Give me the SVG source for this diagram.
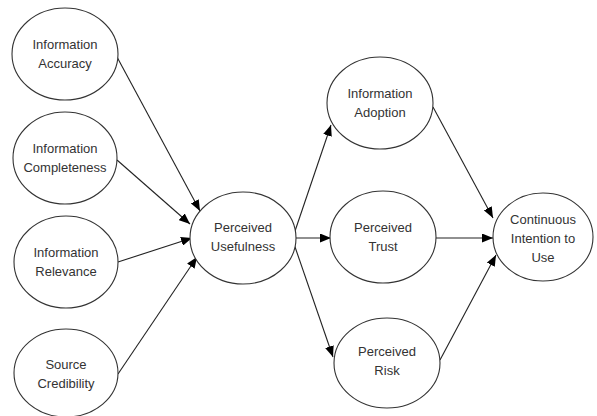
<svg xmlns="http://www.w3.org/2000/svg" width="597" height="416" viewBox="0 0 597 416">
<style>
.n ellipse{fill:#fff;stroke:#333;stroke-width:1.1}
.n text{font-family:"Liberation Sans",Arial,sans-serif;font-size:13px;fill:#333;text-anchor:middle}
#edges line{stroke:#222;stroke-width:1.1;marker-end:url(#ah)}
</style>
<defs>
<marker id="ah" markerWidth="11" markerHeight="9" refX="11" refY="4.5" orient="auto" markerUnits="userSpaceOnUse">
<path d="M0,0 L11,4.5 L0,9 Z" fill="#000"/>
</marker>
</defs>
<rect width="597" height="416" fill="#fff"/>
<g id="edges">
<line x1="117" y1="57" x2="200" y2="211"/>
<line x1="117" y1="160" x2="190" y2="224"/>
<line x1="118" y1="262" x2="192" y2="238"/>
<line x1="118" y1="374" x2="197" y2="257"/>
<line x1="294" y1="234" x2="331" y2="125"/>
<line x1="296" y1="238" x2="331" y2="238"/>
<line x1="294" y1="244" x2="333" y2="357"/>
<line x1="433" y1="107" x2="493" y2="218"/>
<line x1="436" y1="238" x2="493" y2="238"/>
<line x1="440" y1="360" x2="496" y2="255"/>
</g>
<g id="accuracy" class="n"><ellipse cx="65" cy="54" rx="53" ry="46"/><text x="65" y="49">Information</text><text x="65" y="68">Accuracy</text></g>
<g id="completeness" class="n"><ellipse cx="65" cy="158" rx="52" ry="46"/><text x="65" y="153">Information</text><text x="65" y="172">Completeness</text></g>
<g id="relevance" class="n"><ellipse cx="66" cy="262" rx="52" ry="46"/><text x="66" y="257">Information</text><text x="66" y="276">Relevance</text></g>
<g id="credibility" class="n"><ellipse cx="66" cy="373" rx="52" ry="44"/><text x="66" y="369">Source</text><text x="66" y="388">Credibility</text></g>
<g id="usefulness" class="n"><ellipse cx="243" cy="238" rx="53" ry="46"/><text x="243" y="232">Perceived</text><text x="243" y="251">Usefulness</text></g>
<g id="adoption" class="n"><ellipse cx="380" cy="103" rx="53" ry="46"/><text x="380" y="98">Information</text><text x="380" y="117">Adoption</text></g>
<g id="trust" class="n"><ellipse cx="383" cy="237" rx="53" ry="46"/><text x="383" y="232">Perceived</text><text x="383" y="251">Trust</text></g>
<g id="risk" class="n"><ellipse cx="387" cy="363" rx="53" ry="45"/><text x="387" y="356">Perceived</text><text x="387" y="375">Risk</text></g>
<g id="intention" class="n"><ellipse cx="543" cy="237" rx="50" ry="44"/><text x="543" y="224">Continuous</text><text x="543" y="243">Intention to</text><text x="543" y="262">Use</text></g>
</svg>
